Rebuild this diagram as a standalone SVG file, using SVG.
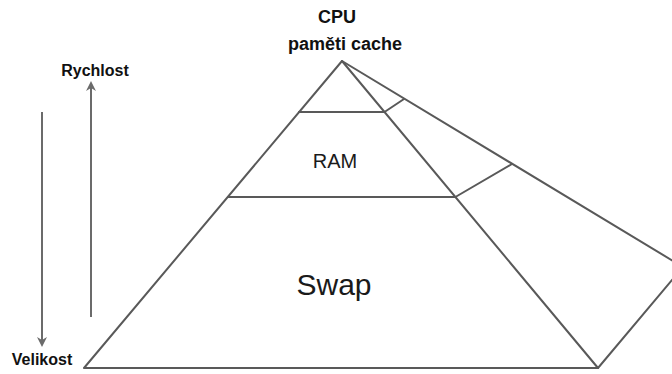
<svg xmlns="http://www.w3.org/2000/svg" width="672" height="374" viewBox="0 0 672 374">
<style>
.e{stroke:#595959;stroke-width:2;fill:none;stroke-linecap:round;stroke-linejoin:round}
.a{stroke:#6b6b6b;stroke-width:2;fill:none}
.b{font-family:"Liberation Sans",Arial,sans-serif;font-weight:bold;fill:#111}
.n{font-family:"Liberation Sans",Arial,sans-serif;fill:#1a1a1a}
</style>
<defs>
<marker id="ah" viewBox="0 0 10 10" refX="8" refY="5" markerWidth="5" markerHeight="5" orient="auto">
<path d="M0,0 L10,5 L0,10 L3,5 Z" fill="#6b6b6b"/>
</marker>
</defs>
<g id="pyramid">
<path class="e" d="M342,61 L84,368 L598,368 L683,267 Z"/>
<path class="e" d="M342,61 L598,368"/>
</g>
<g id="cache">
<path class="e" d="M299,112 L384.5,112 L404,99"/>
</g>
<g id="ram">
<path class="e" d="M228,197 L455.4,197 L512,164"/>
<text class="n" x="335" y="168" font-size="20" text-anchor="middle">RAM</text>
</g>
<g id="swap">
<text class="n" x="334" y="295" font-size="30" text-anchor="middle">Swap</text>
</g>
<g id="labels">
<text class="b" x="337" y="23" font-size="18" text-anchor="middle">CPU</text>
<text class="b" x="345" y="50" font-size="18" text-anchor="middle">paměti cache</text>
<text class="b" x="95" y="76" font-size="16" text-anchor="middle">Rychlost</text>
<text class="b" x="42" y="365" font-size="16" text-anchor="middle">Velikost</text>
</g>
<g id="connectors">
<line class="a" x1="42" y1="112" x2="42" y2="345" marker-end="url(#ah)"/>
<line class="a" x1="91" y1="317" x2="91" y2="83" marker-end="url(#ah)"/>
</g>
</svg>
